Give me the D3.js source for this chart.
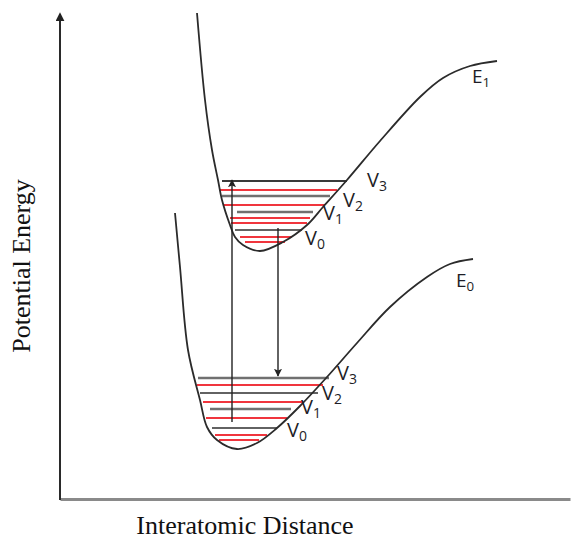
<!DOCTYPE html>
<html>
<head>
<meta charset="utf-8">
<script src="https://cdn.jsdelivr.net/npm/d3@7"></script>
<style>
  html, body { margin: 0; padding: 0; background: #fff; }
  svg { display: block; }
</style>
</head>
<body>
<svg id="chart" width="571" height="540"></svg>
<script>
// Potential energy curves (distance, energy) in arbitrary units
const groundCurve = [
  [1.15, 2.87], [1.20, 2.33], [1.28, 1.50], [1.40, 1.00], [1.47, 0.73],
  [1.57, 0.60], [1.77, 0.51], [1.97, 0.57], [2.17, 0.72], [2.40, 0.94],
  [2.67, 1.23], [2.97, 1.57], [3.30, 1.93], [3.67, 2.23],
  [3.90, 2.36], [4.13, 2.41]
];
const excitedCurve = [
  [1.37, 4.87], [1.45, 4.00], [1.52, 3.50], [1.58, 3.20], [1.62, 3.00],
  [1.70, 2.75], [1.75, 2.63], [1.83, 2.55], [2.00, 2.49], [2.23, 2.58],
  [2.47, 2.75], [2.63, 2.93], [2.87, 3.20], [3.20, 3.59], [3.60, 4.03],
  [3.83, 4.22], [4.10, 4.34], [4.37, 4.39]
];

// Vibrational levels: energy, left and right distance, level kind
const excitedLevels = [
  [3.19, 1.62, 2.87, "main"],
  [3.10, 1.60, 2.77, "red"],
  [3.04, 1.62, 2.70, "grey"],
  [2.95, 1.63, 2.65, "red"],
  [2.88, 1.77, 2.53, "grey"],
  [2.82, 1.70, 2.50, "red"],
  [2.77, 1.71, 2.47, "red"],
  [2.70, 1.75, 2.42, "dark"],
  [2.63, 1.80, 2.32, "red"],
  [2.58, 1.85, 2.25, "red"]
];
const groundLevels = [
  [1.22, 1.38, 2.69, "grey"],
  [1.15, 1.37, 2.63, "red"],
  [1.07, 1.40, 2.58, "dark"],
  [0.98, 1.43, 2.42, "red"],
  [0.91, 1.50, 2.31, "grey"],
  [0.82, 1.46, 2.27, "red"],
  [0.72, 1.52, 2.17, "dark"],
  [0.65, 1.55, 2.07, "red"],
  [0.60, 1.59, 1.99, "red"]
];

// Transitions: distance, start energy, end energy
const transitions = [
  [1.72, 0.78, 3.20],   // absorption
  [2.18, 2.72, 1.24]    // emission
];

// Labels: base text, subscript, distance, energy
const levelLabels = [
  ["V", "3", 3.07, 3.13], ["V", "2", 2.83, 2.93], ["V", "1", 2.63, 2.80], ["V", "0", 2.45, 2.55],
  ["V", "3", 2.77, 1.20], ["V", "2", 2.62, 1.00], ["V", "1", 2.41, 0.86], ["V", "0", 2.27, 0.63]
];
const stateLabels = [
  ["E", "1", 4.12, 4.17],
  ["E", "0", 3.96, 2.13]
];
const axisTitles = ["Interatomic Distance", "Potential Energy"];

const svg = d3.select("#chart");
const x = d3.scaleLinear().domain([0, 5.1]).range([60, 570]);
const y = d3.scaleLinear().domain([0, 4.85]).range([500, 15]);

const defs = svg.append("defs");
defs.append("marker")
  .attr("id", "head").attr("viewBox", "0 0 10 10")
  .attr("refX", 9).attr("refY", 5)
  .attr("markerWidth", 8).attr("markerHeight", 8)
  .attr("markerUnits", "userSpaceOnUse")
  .attr("orient", "auto")
  .append("path").attr("d", "M0,0 L10,5 L0,10 L2,5 Z").attr("fill", "#222");
defs.append("marker")
  .attr("id", "axhead").attr("viewBox", "0 0 10 10")
  .attr("refX", 8).attr("refY", 5)
  .attr("markerWidth", 9).attr("markerHeight", 9)
  .attr("markerUnits", "userSpaceOnUse")
  .attr("orient", "auto")
  .append("path").attr("d", "M0,0 L10,5 L0,10 Z").attr("fill", "#222");

// Axes (no ticks)
const xAxis = svg.append("g")
  .attr("transform", `translate(0,${y(0) - 1})`)
  .call(d3.axisBottom(x).tickValues([]).tickSizeOuter(0));
xAxis.select(".domain").attr("stroke", "#8a8a8a").attr("stroke-width", 3);

const yAxis = svg.append("g")
  .attr("transform", `translate(${x(0)},0)`)
  .call(d3.axisLeft(y).tickValues([]).tickSizeOuter(0));
yAxis.select(".domain").attr("stroke", "none");
svg.append("line")
  .attr("x1", x(0)).attr("x2", x(0))
  .attr("y1", y(0)).attr("y2", y(4.86))
  .attr("stroke", "#2a2a2a").attr("stroke-width", 2)
  .attr("marker-end", "url(#axhead)");

// Vibrational levels
const levelStyle = {
  main: { stroke: "#3a3a3a", width: 2.2 },
  grey: { stroke: "#707070", width: 2.6 },
  dark: { stroke: "#2e2e2e", width: 1.3 },
  red:  { stroke: "#f0353d", width: 2 }
};
svg.append("g").selectAll("line")
  .data(excitedLevels.concat(groundLevels))
  .join("line")
  .attr("x1", d => x(d[1])).attr("x2", d => x(d[2]))
  .attr("y1", d => y(d[0])).attr("y2", d => y(d[0]))
  .attr("stroke", d => levelStyle[d[3]].stroke)
  .attr("stroke-width", d => levelStyle[d[3]].width);

// Potential curves
const line = d3.line().x(d => x(d[0])).y(d => y(d[1])).curve(d3.curveCatmullRom.alpha(0.5));
svg.append("g").selectAll("path")
  .data([groundCurve, excitedCurve])
  .join("path")
  .attr("d", line)
  .attr("fill", "none")
  .attr("stroke", "#2b2b2b")
  .attr("stroke-width", 1.8);

// Transition arrows
svg.append("g").selectAll("line")
  .data(transitions)
  .join("line")
  .attr("x1", d => x(d[0])).attr("x2", d => x(d[0]))
  .attr("y1", d => y(d[1])).attr("y2", d => y(d[2]))
  .attr("stroke", "#222").attr("stroke-width", 1.4)
  .attr("marker-end", "url(#head)");

// Level and state labels with subscripts
function subLabel(g, data, size) {
  const t = g.selectAll("text").data(data).join("text")
    .attr("x", d => x(d[2])).attr("y", d => y(d[3]))
    .attr("font-family", "'Open Sans', 'Liberation Sans', sans-serif")
    .attr("font-size", size)
    .attr("fill", "#1d1d26");
  t.append("tspan").text(d => d[0]);
  t.append("tspan").attr("dy", 4).attr("font-size", size * 0.7).text(d => d[1]);
}
subLabel(svg.append("g"), levelLabels, 20);
subLabel(svg.append("g"), stateLabels, 19);

// Axis titles
svg.append("text")
  .attr("x", 245).attr("y", 534)
  .attr("text-anchor", "middle")
  .attr("font-family", "'Liberation Serif', 'Times New Roman', serif")
  .attr("font-size", 26)
  .attr("fill", "#111")
  .text(axisTitles[0]);
svg.append("text")
  .attr("transform", "translate(30,266) rotate(-90)")
  .attr("text-anchor", "middle")
  .attr("font-family", "'Liberation Serif', 'Times New Roman', serif")
  .attr("font-size", 26)
  .attr("fill", "#111")
  .text(axisTitles[1]);
</script>
</body>
</html>
